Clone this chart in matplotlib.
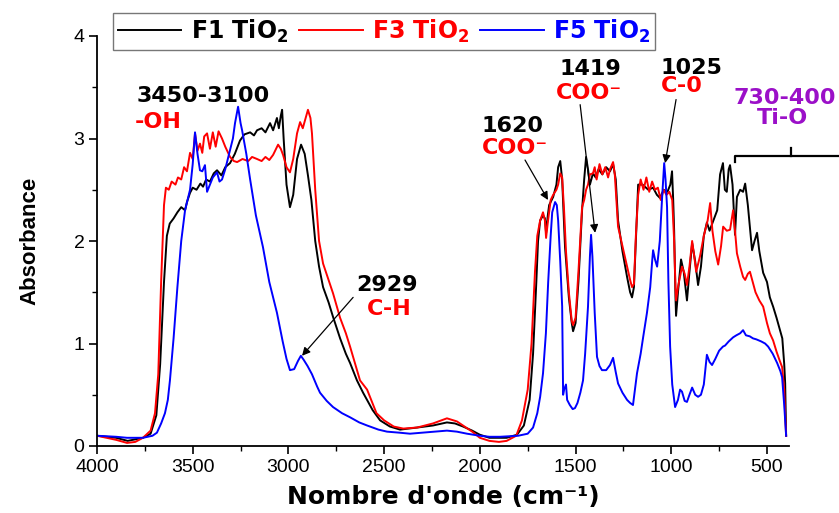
import matplotlib
matplotlib.use("Agg")
import matplotlib.pyplot as plt
from matplotlib.ticker import MultipleLocator

plt.rcParams['font.family'] = ['Liberation Sans', 'DejaVu Sans']
plt.rcParams['mathtext.fontset'] = 'dejavusans'

# F1 TiO2 (black)
f1_wn = [4000, 3900, 3840, 3760, 3720, 3690, 3670, 3650, 3635, 3620, 3600, 3580, 3560, 3540, 3530,
         3514, 3500, 3480, 3460, 3446, 3430, 3410, 3390, 3373, 3350, 3330, 3305, 3280, 3253, 3230,
         3200, 3180, 3164, 3140, 3120, 3096, 3080, 3060, 3050, 3040, 3033, 3025, 3010, 2992, 2975,
         2955, 2934, 2915, 2898, 2880, 2860, 2840, 2819, 2790, 2767, 2730, 2700, 2678, 2642, 2610,
         2560, 2521, 2470, 2417, 2328, 2245, 2172, 2130, 2088, 2040, 2000, 1950, 1910, 1860, 1806,
         1770, 1740, 1722, 1705, 1696, 1685, 1670, 1660, 1654, 1645, 1638, 1617, 1600, 1591, 1580,
         1570, 1555, 1535, 1520, 1513, 1500, 1485, 1466, 1455, 1445, 1435, 1425, 1409, 1395, 1380,
         1360, 1340, 1320, 1304, 1290, 1278, 1255, 1231, 1215, 1205, 1195, 1185, 1173, 1150, 1120,
         1095, 1075, 1059, 1040, 1020, 1005, 996, 990, 985, 978, 975, 965, 949, 935, 918,
         905, 891, 875, 860, 845, 830, 814, 800, 780, 760, 745, 730, 720, 710, 700,
         693, 680, 667, 657, 640, 625, 614, 600, 590, 578, 565, 552, 540, 520, 500,
         485, 468, 450, 432, 420, 410, 405, 400]
f1_abs = [0.10, 0.08, 0.05, 0.08, 0.12, 0.30, 0.80, 1.60, 2.05, 2.17, 2.22, 2.28, 2.33, 2.30, 2.38,
          2.47, 2.52, 2.50, 2.56, 2.53, 2.60, 2.58, 2.66, 2.69, 2.64, 2.72, 2.76, 2.85, 2.98, 3.04,
          3.06, 3.03, 3.08, 3.10, 3.06, 3.15, 3.08, 3.20, 3.10, 3.22, 3.28, 3.00, 2.55, 2.33, 2.45,
          2.80, 2.94, 2.85, 2.64, 2.40, 2.00, 1.75, 1.55, 1.40, 1.26, 1.05, 0.90, 0.81, 0.64, 0.52,
          0.35, 0.25, 0.19, 0.16, 0.18, 0.20, 0.23, 0.22, 0.19, 0.15, 0.11, 0.08, 0.08, 0.08, 0.11,
          0.20, 0.45, 0.90, 1.60, 2.00, 2.20, 2.25, 2.22, 2.08, 2.25, 2.35, 2.43, 2.55, 2.72, 2.78,
          2.60, 1.94, 1.45, 1.20, 1.12, 1.20, 1.60, 2.30, 2.60, 2.82, 2.70, 2.55, 2.66, 2.62, 2.70,
          2.65, 2.72, 2.68, 2.75, 2.60, 2.20, 1.90, 1.65, 1.50, 1.45, 1.55, 2.00, 2.55, 2.55, 2.50,
          2.52, 2.45, 2.42, 2.50, 2.48, 2.55, 2.68, 2.40, 2.10, 1.45, 1.27, 1.50, 1.82, 1.70, 1.42,
          1.70, 1.98, 1.80, 1.57, 1.75, 2.05, 2.18, 2.10, 2.20, 2.30, 2.65, 2.76, 2.50, 2.48, 2.70,
          2.74, 2.55, 2.06, 2.43, 2.50, 2.48, 2.56, 2.35, 2.15, 1.91, 2.00, 2.08, 1.90, 1.69, 1.60,
          1.45, 1.36, 1.25, 1.13, 1.05, 0.80, 0.61, 0.10]

# F3 TiO2 (red)
f3_wn = [4000, 3900, 3843, 3800, 3760, 3720, 3697, 3680, 3665, 3650, 3640, 3625, 3610, 3590, 3577,
         3560, 3545, 3530, 3514, 3500, 3488, 3475, 3462, 3450, 3440, 3425, 3410, 3395, 3380, 3365,
         3347, 3330, 3305, 3285, 3268, 3240, 3210, 3190, 3164, 3140, 3120, 3100, 3080, 3054, 3040,
         3028, 3010, 2992, 2975, 2955, 2939, 2925, 2910, 2898, 2885, 2877, 2860, 2840, 2819, 2790,
         2767, 2730, 2700, 2678, 2626, 2589, 2540, 2500, 2450, 2400, 2328, 2245, 2172, 2120, 2080,
         2040, 2000, 1950, 1900, 1860, 1810, 1780, 1750, 1730, 1712, 1700, 1685, 1670, 1660, 1654,
         1645, 1630, 1617, 1600, 1591, 1580, 1570, 1560, 1550, 1535, 1520, 1513, 1500, 1485, 1466,
         1455, 1445, 1435, 1425, 1409, 1400, 1390, 1375, 1360, 1345, 1330, 1320, 1304, 1295, 1278,
         1255, 1231, 1215, 1205, 1195, 1185, 1173, 1160, 1145, 1130, 1115, 1100, 1085, 1070, 1055,
         1040, 1025, 1010, 995, 985, 978, 975, 965, 944, 930, 918, 905, 891, 880, 870,
         850, 830, 810, 797, 785, 770, 755, 740, 729, 710, 693, 677, 667, 657, 640,
         625, 614, 600, 589, 560, 540, 520, 500, 485, 468, 450, 435, 421, 410, 405, 400]
f3_abs = [0.10, 0.06, 0.03, 0.04, 0.08, 0.15, 0.32, 0.70, 1.60, 2.35, 2.52, 2.50, 2.58, 2.55, 2.62,
          2.60, 2.72, 2.68, 2.86, 2.80, 3.05, 2.88, 2.95, 2.86, 3.02, 3.05, 2.90, 3.06, 2.92, 3.07,
          3.00, 2.92, 2.82, 2.78, 2.77, 2.80, 2.78, 2.82, 2.80, 2.78, 2.82, 2.79, 2.84, 2.94, 2.90,
          2.84, 2.72, 2.67, 2.80, 3.05, 3.16, 3.10, 3.20, 3.28, 3.20, 3.05, 2.50, 2.00, 1.78, 1.62,
          1.49, 1.25, 1.10, 0.97, 0.64, 0.55, 0.32, 0.25, 0.19, 0.17, 0.18, 0.22, 0.27, 0.24, 0.19,
          0.14, 0.08, 0.05, 0.04, 0.05, 0.10, 0.25, 0.55, 1.00, 1.70, 2.05, 2.20, 2.28, 2.20, 2.03,
          2.18, 2.40, 2.45, 2.50, 2.55, 2.66, 2.62, 2.30, 1.90, 1.50, 1.22, 1.18, 1.25, 1.70, 2.33,
          2.40, 2.50, 2.55, 2.65, 2.66, 2.72, 2.60, 2.75, 2.65, 2.72, 2.62, 2.70, 2.77, 2.65, 2.14,
          1.95, 1.75, 1.62, 1.55, 1.58, 2.05, 2.45, 2.60, 2.50, 2.62, 2.48, 2.58, 2.50, 2.52, 2.40,
          2.50, 2.45, 2.48, 2.40, 2.00, 1.55, 1.42, 1.55, 1.75, 1.68, 1.57, 1.75, 2.00, 1.85, 1.70,
          1.85, 2.05, 2.20, 2.37, 2.10, 1.90, 1.77, 1.95, 2.14, 2.10, 2.11, 2.30, 2.10, 1.88, 1.75,
          1.65, 1.62, 1.68, 1.70, 1.50, 1.42, 1.36, 1.20, 1.10, 1.03, 0.92, 0.84, 0.77, 0.55, 0.30, 0.10]

# F5 TiO2 (blue)
f5_wn = [4000, 3900, 3843, 3760, 3710, 3687, 3665, 3645, 3630, 3619, 3600, 3580, 3560, 3540, 3514,
         3500, 3488, 3475, 3462, 3450, 3436, 3425, 3410, 3395, 3373, 3360, 3347, 3330, 3305, 3290,
         3279, 3263, 3250, 3242, 3220, 3200, 3170, 3133, 3100, 3060, 3030, 3010, 2992, 2970, 2950,
         2935, 2920, 2900, 2877, 2850, 2835, 2800, 2767, 2720, 2678, 2630, 2589, 2530, 2485, 2420,
         2365, 2300, 2230, 2172, 2120, 2067, 2000, 1950, 1895, 1800, 1750, 1722, 1700, 1685, 1670,
         1655, 1643, 1630, 1622, 1607, 1598, 1591, 1580, 1570, 1565, 1560, 1550, 1544, 1530, 1515,
         1503, 1490, 1475, 1461, 1450, 1435, 1425, 1419, 1412, 1400, 1388, 1375, 1362, 1340, 1320,
         1304, 1290, 1278, 1255, 1231, 1215, 1200, 1190, 1179, 1160, 1147, 1135, 1127, 1110, 1100,
         1095, 1085, 1074, 1060, 1048, 1037, 1030, 1022, 1015, 1006, 995, 980, 965, 954, 944,
         930, 918, 905, 891, 875, 860, 845, 830, 814, 800, 787, 770, 750, 730, 719,
         700, 677, 660, 640, 625, 610, 590, 573, 555, 530, 510, 494, 470, 447, 430,
         421, 410, 400]
f5_abs = [0.10, 0.09, 0.08, 0.08, 0.10, 0.13, 0.22, 0.32, 0.45, 0.64, 1.05, 1.55, 2.00, 2.30, 2.50,
          2.75, 3.06, 2.85, 2.69, 2.68, 2.74, 2.48, 2.55, 2.62, 2.67, 2.58, 2.60, 2.70, 2.89, 3.00,
          3.15, 3.31, 3.15, 3.08, 2.85, 2.60, 2.25, 1.94, 1.60, 1.30, 1.02, 0.85, 0.74, 0.75, 0.83,
          0.88, 0.84, 0.78, 0.70, 0.58, 0.52, 0.44, 0.38, 0.32, 0.28, 0.23, 0.20, 0.16, 0.14, 0.13,
          0.12, 0.13, 0.14, 0.15, 0.14, 0.12, 0.10, 0.09, 0.09, 0.10, 0.12, 0.18, 0.32, 0.48, 0.71,
          1.10, 1.60, 2.05, 2.28, 2.38, 2.35, 2.20, 1.80, 1.36, 0.50, 0.55, 0.60, 0.45, 0.40, 0.36,
          0.37, 0.42, 0.52, 0.64, 0.90, 1.36, 1.85, 2.06, 1.85, 1.30, 0.87, 0.78, 0.74, 0.74, 0.79,
          0.86, 0.72, 0.61, 0.52, 0.45, 0.42, 0.40, 0.55, 0.71, 0.90, 1.06, 1.20, 1.30, 1.55, 1.80,
          1.91, 1.82, 1.75, 2.00, 2.42, 2.76, 2.60, 2.33, 1.60, 0.97, 0.60, 0.38, 0.45, 0.55, 0.53,
          0.44, 0.43, 0.50, 0.57, 0.50, 0.48, 0.50, 0.60, 0.89, 0.82, 0.79, 0.85, 0.93, 0.97, 0.98,
          1.02, 1.06, 1.08, 1.10, 1.13, 1.08, 1.07, 1.05, 1.04, 1.02, 1.00, 0.97, 0.90, 0.81, 0.73,
          0.67, 0.40, 0.10]

series_labels = [r"F1 TiO$_\mathbf{2}$", r"F3 TiO$_\mathbf{2}$", r"F5 TiO$_\mathbf{2}$"]
series_colors = ['black', 'red', 'blue']

fig = plt.figure(figsize=(8.39, 5.13), dpi=100)
ax = fig.add_axes([97/839, 1-446/513, (789-97)/839, (446-36)/513])

for wn, ab, lab, col in zip([f1_wn, f3_wn, f5_wn], [f1_abs, f3_abs, f5_abs], series_labels, series_colors):
    ax.plot(wn, ab, color=col, lw=1.4, label=lab)

ax.set_xlim(4000, 385)
ax.set_ylim(0, 4)
ax.xaxis.set_major_locator(MultipleLocator(500))
ax.xaxis.set_minor_locator(MultipleLocator(250))
ax.yaxis.set_major_locator(MultipleLocator(1))
ax.yaxis.set_minor_locator(MultipleLocator(0.5))
ax.spines['top'].set_visible(False)
ax.spines['right'].set_visible(False)
for s in ['left', 'bottom']:
    ax.spines[s].set_linewidth(1.3)
ax.tick_params(which='major', direction='out', length=6, width=1.2, labelsize=14, pad=3)
ax.tick_params(which='minor', direction='out', length=3.5, width=1.0)

ax.set_xlabel("Nombre d'onde (cm⁻¹)", family='DejaVu Sans', fontweight='bold', fontsize=18, labelpad=7)
ax.set_ylabel("Absorbance", family='Liberation Sans', fontweight='bold', fontsize=16, labelpad=24)

bold = dict(family='DejaVu Sans', fontweight='bold', fontsize=16, ha='center', va='center')

# peak annotations
ax.text(3446, 3.41, "3450-3100", color='black', **bold)
ax.text(3801, 3.16, "-OH", color='red', **{**bold, 'ha': 'left'})
ax.text(2485, 1.57, "2929", color='black', **bold)
ax.text(2474, 1.34, "C-H", color='red', **bold)
ax.text(1827, 3.12, "1620", color='black', **bold)
ax.text(1815, 2.91, "COO⁻", color='red', **bold)
ax.text(1424, 3.68, "1419", color='black', **bold)
ax.text(1430, 3.44, "COO⁻", color='red', **bold)
ax.text(897, 3.69, "1025", color='black', **bold)
ax.text(944, 3.51, "C-0", color='red', **bold)
ax.text(405, 3.40, "730-400", color='#9B10C8', clip_on=False, **bold)
ax.text(421, 3.20, "Ti-O", color='#9B10C8', clip_on=False, **bold)

arrow = dict(arrowstyle='-|>', color='black', lw=0.9, mutation_scale=12, shrinkA=0, shrinkB=0)
ax.annotate("", xy=(2929, 0.88), xytext=(2662, 1.45), arrowprops=arrow)
ax.annotate("", xy=(1644, 2.40), xytext=(1764, 2.79), arrowprops=arrow)
ax.annotate("", xy=(1398, 2.08), xytext=(1476, 3.33), arrowprops=arrow)
ax.annotate("", xy=(1032, 2.76), xytext=(975, 3.38), arrowprops=arrow)

# bracket for the Ti-O region
ax.plot([667, 667, 123], [2.77, 2.83, 2.83], color='black', lw=1.6, clip_on=False)
ax.plot([374, 374], [2.83, 2.91], color='black', lw=1.6, clip_on=False)

leg = ax.legend(loc='upper left', bbox_to_anchor=(113/839, 1-13/513), bbox_transform=fig.transFigure,
                ncol=3, frameon=True, fancybox=False, borderaxespad=0, borderpad=0.2,
                handlelength=2.7, handletextpad=0.4, columnspacing=0.45, labelcolor='linecolor',
                prop=dict(family='DejaVu Sans', weight='bold', size=17))
leg.get_frame().set_edgecolor('#555555')
leg.get_frame().set_linewidth(1.0)

fig.savefig('out.png', dpi=100)
